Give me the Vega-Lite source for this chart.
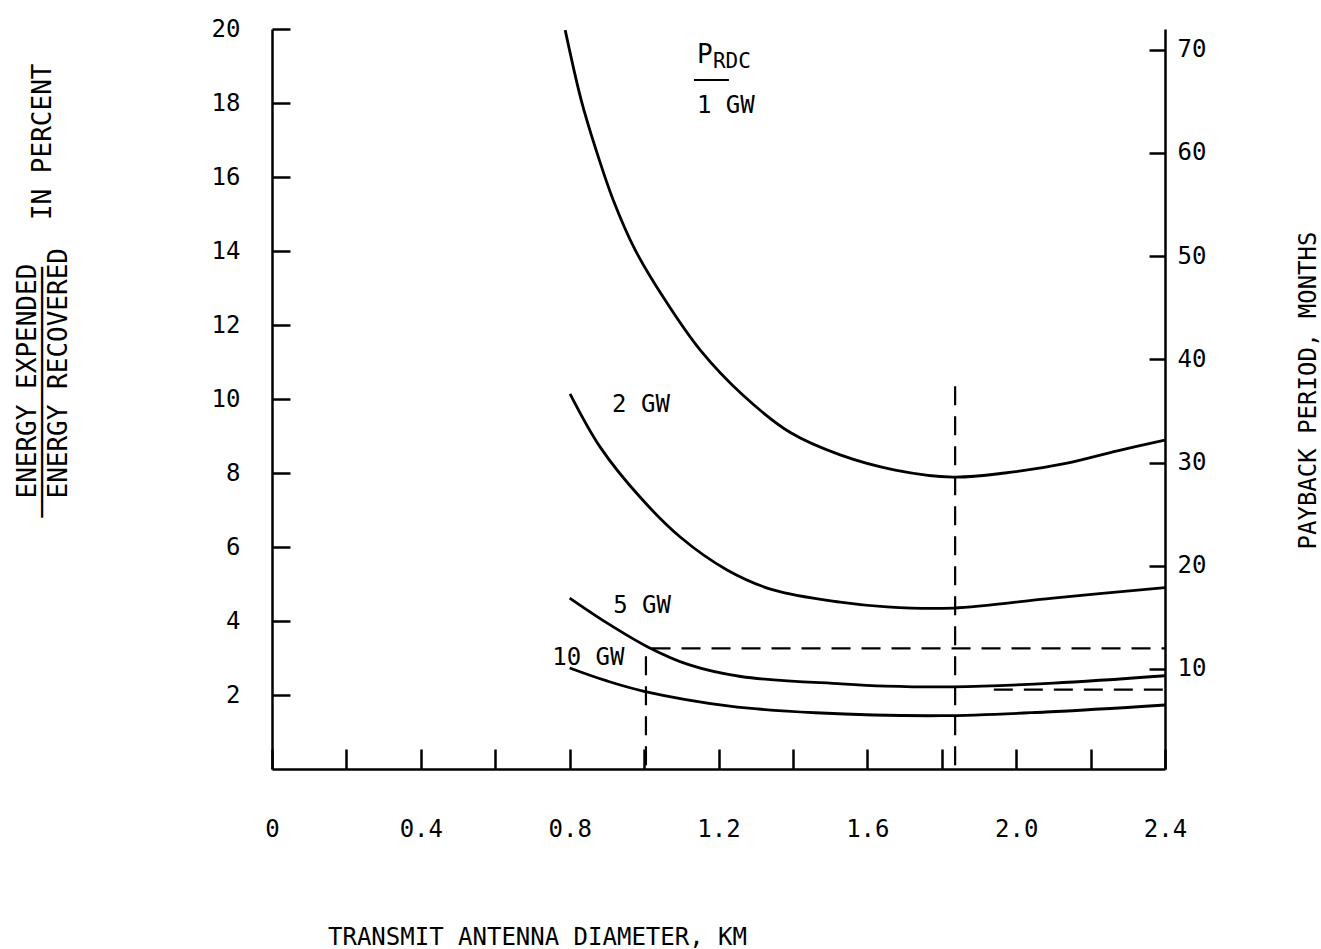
{
  "$schema": "https://vega.github.io/schema/vega-lite/v6.json",
  "width": 893,
  "height": 740,
  "autosize": {"type": "none"},
  "padding": {"left": 272, "top": 29, "right": 156, "bottom": 180},
  "background": "white",
  "config": {
    "view": {"stroke": null},
    "font": "DejaVu Sans Mono",
    "axis": {
      "grid": false,
      "domainColor": "black",
      "domainWidth": 2.5,
      "tickColor": "black",
      "tickWidth": 2.5,
      "labelColor": "black",
      "titleColor": "black",
      "labelFont": "DejaVu Sans Mono",
      "titleFont": "DejaVu Sans Mono",
      "labelFontSize": 24,
      "titleFontSize": 24,
      "labelFontWeight": "normal",
      "titleFontWeight": "normal"
    },
    "text": {"font": "DejaVu Sans Mono", "color": "black"}
  },
  "datasets": {
    "curves": [
      {"series": "1 GW", "d": 0.788, "pct": 19.97},
      {"series": "1 GW", "d": 0.831, "pct": 18.08},
      {"series": "1 GW", "d": 0.871, "pct": 16.73},
      {"series": "1 GW", "d": 0.917, "pct": 15.38},
      {"series": "1 GW", "d": 0.976, "pct": 14.03},
      {"series": "1 GW", "d": 1.056, "pct": 12.68},
      {"series": "1 GW", "d": 1.151, "pct": 11.32},
      {"series": "1 GW", "d": 1.266, "pct": 10.1},
      {"series": "1 GW", "d": 1.392, "pct": 9.1},
      {"series": "1 GW", "d": 1.527, "pct": 8.49},
      {"series": "1 GW", "d": 1.675, "pct": 8.08},
      {"series": "1 GW", "d": 1.831, "pct": 7.89},
      {"series": "1 GW", "d": 1.97, "pct": 8.0},
      {"series": "1 GW", "d": 2.137, "pct": 8.27},
      {"series": "1 GW", "d": 2.272, "pct": 8.6},
      {"series": "1 GW", "d": 2.4, "pct": 8.89},
      {"series": "2 GW", "d": 0.801, "pct": 10.14},
      {"series": "2 GW", "d": 0.882, "pct": 8.7},
      {"series": "2 GW", "d": 0.989, "pct": 7.35},
      {"series": "2 GW", "d": 1.097, "pct": 6.27},
      {"series": "2 GW", "d": 1.223, "pct": 5.38},
      {"series": "2 GW", "d": 1.347, "pct": 4.84},
      {"series": "2 GW", "d": 1.527, "pct": 4.51},
      {"series": "2 GW", "d": 1.653, "pct": 4.38},
      {"series": "2 GW", "d": 1.831, "pct": 4.35},
      {"series": "2 GW", "d": 2.099, "pct": 4.62},
      {"series": "2 GW", "d": 2.4, "pct": 4.9},
      {"series": "5 GW", "d": 0.8, "pct": 4.62},
      {"series": "5 GW", "d": 0.9, "pct": 3.95},
      {"series": "5 GW", "d": 1.01, "pct": 3.3},
      {"series": "5 GW", "d": 1.12, "pct": 2.82},
      {"series": "5 GW", "d": 1.26, "pct": 2.5},
      {"series": "5 GW", "d": 1.53, "pct": 2.3},
      {"series": "5 GW", "d": 1.65, "pct": 2.24},
      {"series": "5 GW", "d": 1.83, "pct": 2.22},
      {"series": "5 GW", "d": 2.1, "pct": 2.32},
      {"series": "5 GW", "d": 2.4, "pct": 2.52},
      {"series": "10 GW", "d": 0.8, "pct": 2.73},
      {"series": "10 GW", "d": 0.9, "pct": 2.38},
      {"series": "10 GW", "d": 1.0, "pct": 2.1},
      {"series": "10 GW", "d": 1.23, "pct": 1.7},
      {"series": "10 GW", "d": 1.46, "pct": 1.52},
      {"series": "10 GW", "d": 1.8, "pct": 1.44},
      {"series": "10 GW", "d": 2.08, "pct": 1.54},
      {"series": "10 GW", "d": 2.4, "pct": 1.73}
    ],
    "pctGuides": [
      {"g": "optimum", "d": 1.836, "pct": 0.1},
      {"g": "optimum", "d": 1.836, "pct": 10.4},
      {"g": "one km", "d": 1.005, "pct": 0.1},
      {"g": "one km", "d": 1.005, "pct": 3.27}
    ],
    "monthGuides": [
      {"g": "12 months", "d": 1.02, "months": 12},
      {"g": "12 months", "d": 2.4, "months": 12},
      {"g": "8 months", "d": 1.94, "months": 8},
      {"g": "8 months", "d": 2.4, "months": 8}
    ],
    "curveLabels": [
      {"label": "1 GW", "d": 1.142, "pct": 17.73},
      {"label": "2 GW", "d": 0.914, "pct": 9.65},
      {"label": "5 GW", "d": 0.917, "pct": 4.22},
      {"label": "10 GW", "d": 0.753, "pct": 2.81}
    ]
  },
  "layer": [
    {
      "layer": [
        {
          "data": {"name": "curves"},
          "mark": {"type": "line", "color": "black", "strokeWidth": 2.8, "interpolate": "catmull-rom", "clip": true},
          "encoding": {
            "x": {
              "field": "d",
              "type": "quantitative",
              "scale": {"domain": [0, 2.4], "nice": false, "zero": false},
              "axis": {
                "values": [0, 0.2, 0.4, 0.6, 0.8, 1.0, 1.2, 1.4, 1.6, 1.8, 2.0, 2.2, 2.4],
                "tickSize": -20,
                "labelPadding": 68,
                "labelFlush": false,
                "labelExpr": "datum.value == 0 ? '0' : (round(datum.value * 5) % 2 == 0 ? format(datum.value, '.1f') : '')",
                "title": "TRANSMIT ANTENNA DIAMETER, KM",
                "titleX": 265,
                "titleY": 175,
                "titleAlign": "center",
                "titleBaseline": "alphabetic"
              }
            },
            "y": {
              "field": "pct",
              "type": "quantitative",
              "scale": {"domain": [0, 20], "nice": false},
              "axis": {
                "values": [2, 4, 6, 8, 10, 12, 14, 16, 18, 20],
                "tickSize": -18,
                "labelPadding": 50,
                "labelFlush": false,
                "title": [
                  "\u2800ENERGY EXPENDED",
                  "\u2500\u2500\u2500\u2500\u2500\u2500\u2500\u2500\u2500\u2500\u2500\u2500\u2500\u2500\u2500\u2500\u00a0\u00a0\u00a0IN PERCENT",
                  "\u2800ENERGY RECOVERED"
                ],
                "titleFontSize": 26,
                "titleAngle": 270,
                "titleAlign": "left",
                "titleBaseline": "alphabetic",
                "titleLineHeight": 15.5,
                "titleX": -237,
                "titleY": 488
              }
            },
            "detail": {"field": "series"}
          }
        },
        {
          "data": {"name": "pctGuides"},
          "mark": {"type": "line", "color": "black", "strokeWidth": 2.2, "strokeDash": [19, 11]},
          "encoding": {
            "x": {"field": "d", "type": "quantitative"},
            "y": {"field": "pct", "type": "quantitative"},
            "detail": {"field": "g"}
          }
        },
        {
          "data": {"name": "curveLabels"},
          "mark": {"type": "text", "align": "left", "baseline": "alphabetic", "fontSize": 24},
          "encoding": {
            "x": {"field": "d", "type": "quantitative"},
            "y": {"field": "pct", "type": "quantitative"},
            "text": {"field": "label"}
          }
        },
        {
          "data": {"values": [{"part": "P", "d": 1.142, "pct": 19.08}]},
          "mark": {"type": "text", "align": "left", "baseline": "alphabetic", "fontSize": 26},
          "encoding": {
            "x": {"field": "d", "type": "quantitative"},
            "y": {"field": "pct", "type": "quantitative"},
            "text": {"field": "part"}
          }
        },
        {
          "data": {"values": [{"part": "RDC", "d": 1.185, "pct": 18.95}]},
          "mark": {"type": "text", "align": "left", "baseline": "alphabetic", "fontSize": 21},
          "encoding": {
            "x": {"field": "d", "type": "quantitative"},
            "y": {"field": "pct", "type": "quantitative"},
            "text": {"field": "part"}
          }
        },
        {
          "data": {"values": [{"d": 1.134, "d2": 1.228, "pct": 18.62}]},
          "mark": {"type": "rule", "color": "black", "strokeWidth": 2},
          "encoding": {
            "x": {"field": "d", "type": "quantitative"},
            "x2": {"field": "d2"},
            "y": {"field": "pct", "type": "quantitative"}
          }
        }
      ]
    },
    {
      "data": {"name": "monthGuides"},
      "mark": {"type": "line", "color": "black", "strokeWidth": 2.2, "strokeDash": [19, 11]},
      "encoding": {
        "x": {"field": "d", "type": "quantitative"},
        "y": {
          "field": "months",
          "type": "quantitative",
          "scale": {"domain": [0.31, 72], "nice": false, "zero": false},
          "axis": {
            "orient": "right",
            "values": [10, 20, 30, 40, 50, 60, 70],
            "tickSize": -16,
            "labelPadding": 28,
            "labelFlush": false,
            "title": "PAYBACK PERIOD, MONTHS",
            "titleAngle": 270,
            "titleAlign": "center",
            "titleBaseline": "alphabetic",
            "titleX": 150,
            "titleY": 361
          }
        },
        "detail": {"field": "g"}
      }
    }
  ],
  "resolve": {"scale": {"y": "independent"}, "axis": {"y": "independent"}}
}
